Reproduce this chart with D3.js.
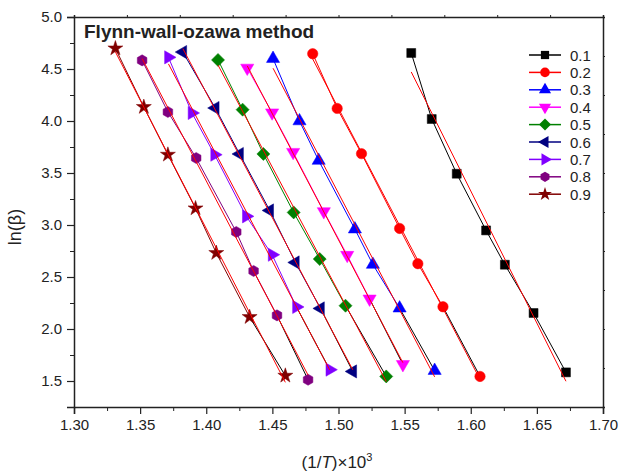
<!DOCTYPE html>
<html>
<head>
  <meta charset="utf-8">
  <script src="https://d3js.org/d3.v7.min.js"></script>
  <style>
    body { margin: 0; background: #fff; }
    .tick text { font-family: Arial, "Liberation Sans", sans-serif; font-size: 15px; fill: #222; }
    .axis path, .axis line { stroke: #222; }
    .label { font-family: Arial, "Liberation Sans", sans-serif; fill: #222; }
  </style>
</head>
<body>
  <script>

    // conversion levels and read-off values for each one
    var alphas = ["0.1", "0.2", "0.3", "0.4", "0.5", "0.6", "0.7", "0.8", "0.9"];
    var colors = ["#000000", "#ff0000", "#0000ff", "#ff00ff", "#008000", "#000080", "#8000ff", "#800080", "#800000"];

    var x01 = [1.555, 1.5705, 1.5894, 1.6116, 1.6258, 1.6475, 1.672];
    var y01 = [4.654, 4.019, 3.493, 2.948, 2.618, 2.154, 1.583];
    var x02 = [1.4805, 1.499, 1.5174, 1.5462, 1.560, 1.579, 1.607];
    var y02 = [4.647, 4.121, 3.686, 2.967, 2.628, 2.214, 1.544];
    var x03 = [1.4505, 1.4705, 1.485, 1.5124, 1.526, 1.5462, 1.5727];
    var y03 = [4.60, 4.00, 3.62, 2.96, 2.62, 2.20, 1.60];
    var x04 = [1.431, 1.4498, 1.4657, 1.4889, 1.5066, 1.5235, 1.5487];
    var y04 = [4.51, 4.08, 3.70, 3.13, 2.71, 2.29, 1.66];
    var x05 = [1.4089, 1.4275, 1.4432, 1.4661, 1.4858, 1.5053, 1.5361];
    var y05 = [4.587, 4.109, 3.683, 3.121, 2.673, 2.224, 1.544];
    var x06 = [1.3823, 1.4068, 1.4252, 1.448, 1.4674, 1.4864, 1.5108];
    var y06 = [4.663, 4.125, 3.683, 3.14, 2.64, 2.198, 1.592];
    var x07 = [1.3714, 1.3892, 1.4063, 1.4303, 1.4498, 1.4682, 1.4934];
    var y07 = [4.612, 4.077, 3.676, 3.083, 2.714, 2.212, 1.609];
    var x08 = [1.3515, 1.371, 1.3924, 1.4227, 1.4358, 1.4535, 1.477];
    var y08 = [4.583, 4.087, 3.644, 2.933, 2.558, 2.131, 1.512];
    var x09 = [1.3313, 1.3528, 1.371, 1.3919, 1.4076, 1.4328, 1.4598];
    var y09 = [4.698, 4.135, 3.676, 3.16, 2.731, 2.115, 1.551];

    var xVals = [x01, x02, x03, x04, x05, x06, x07, x08, x09];
    var yVals = [y01, y02, y03, y04, y05, y06, y07, y08, y09];

    var xTicks = [1.30, 1.35, 1.40, 1.45, 1.50, 1.55, 1.60, 1.65, 1.70];
    var yTicks = [1.5, 2.0, 2.5, 3.0, 3.5, 4.0, 4.5, 5.0];

    var W = 621, H = 473;
    var margin = {top: 17, right: 18, bottom: 66, left: 74},
        width = W - margin.left - margin.right,
        height = H - margin.top - margin.bottom;

    var x = d3.scaleLinear().domain([1.30, 1.70]).range([0, width]);
    var y = d3.scaleLinear().domain([1.25, 5.0]).range([height, 0]);
    // unlabeled ticks on the top and right frame
    var xTop = d3.scaleLinear().domain([0, 10]).range([0, width]);
    var yRight = d3.scaleLinear().domain([0, 10]).range([height, 0]);

    var svg = d3.select("body").append("svg")
        .attr("width", W)
        .attr("height", H)
      .append("g")
        .attr("transform", "translate(" + margin.left + "," + margin.top + ")");

    // hexagon marker
    var symbolHexagon = {
      draw: function(ctx, size) {
        var r = Math.sqrt(size / (1.5 * Math.sqrt(3)));
        for (var i = 0; i < 6; i++) {
          var a = Math.PI / 6 + i * Math.PI / 3;
          if (i === 0) ctx.moveTo(r * Math.cos(a), r * Math.sin(a));
          else ctx.lineTo(r * Math.cos(a), r * Math.sin(a));
        }
        ctx.closePath();
      }
    };

    var markers = [
      {type: d3.symbolSquare, size: 80, rot: 0},
      {type: d3.symbolCircle, size: 85, rot: 0},
      {type: d3.symbolTriangle, size: 75, rot: 0},
      {type: d3.symbolTriangle, size: 75, rot: 180},
      {type: d3.symbolSquare, size: 85, rot: 45},
      {type: d3.symbolTriangle, size: 75, rot: -90},
      {type: d3.symbolTriangle, size: 75, rot: 90},
      {type: symbolHexagon, size: 80, rot: 0},
      {type: d3.symbolStar, size: 70, rot: 0}
    ];

    var series = alphas.map(function(a, i) {
      return {
        name: a,
        color: colors[i],
        marker: markers[i],
        points: xVals[i].map(function(v, j) { return [v, yVals[i][j]]; })
      };
    });

    // least-squares fit line for each series
    function fit(points) {
      var mx = d3.mean(points, function(p) { return p[0]; });
      var my = d3.mean(points, function(p) { return p[1]; });
      var sxy = d3.sum(points, function(p) { return (p[0] - mx) * (p[1] - my); });
      var sxx = d3.sum(points, function(p) { return (p[0] - mx) * (p[0] - mx); });
      var b = sxy / sxx, a = my - b * mx;
      var x0 = d3.min(points, function(p) { return p[0]; }),
          x1 = d3.max(points, function(p) { return p[0]; });
      return [[x0, a + b * x0], [x1, a + b * x1]];
    }

    var line = d3.line()
        .x(function(d) { return x(d[0]); })
        .y(function(d) { return y(d[1]); });

    // axes
    svg.append("g")
        .attr("class", "axis")
        .attr("transform", "translate(0," + height + ")")
        .call(d3.axisBottom(x).tickValues(d3.range(1.325, 1.70, 0.05)).tickSize(4).tickFormat(""))
        .call(function(g) { g.select(".domain").remove(); });
    svg.append("g")
        .attr("class", "axis")
        .attr("transform", "translate(0," + height + ")")
        .call(d3.axisBottom(x).tickValues(xTicks).tickSize(7).tickPadding(5).tickFormat(d3.format(".2f")))
        .call(function(g) { g.select(".domain").attr("stroke-width", 1.5); g.selectAll("line").attr("stroke-width", 1.2); });

    svg.append("g")
        .attr("class", "axis")
        .call(d3.axisLeft(y).tickValues(d3.range(1.75, 5.0, 0.5)).tickSize(4).tickFormat(""))
        .call(function(g) { g.select(".domain").remove(); });
    svg.append("g")
        .attr("class", "axis")
        .call(d3.axisLeft(y).tickValues(yTicks).tickSize(7).tickPadding(5).tickFormat(d3.format(".1f")))
        .call(function(g) { g.select(".domain").attr("stroke-width", 1.5); g.selectAll("line").attr("stroke-width", 1.2); });

    svg.append("g")
        .attr("class", "axis")
        .call(d3.axisTop(xTop).ticks(10).tickSize(2).tickFormat(""))
        .call(function(g) { g.select(".domain").attr("stroke-width", 1.5); });
    svg.append("g")
        .attr("class", "axis")
        .attr("transform", "translate(" + width + ",0)")
        .call(d3.axisRight(yRight).ticks(10).tickSize(2).tickFormat(""))
        .call(function(g) { g.select(".domain").attr("stroke-width", 1.5); });

    // data lines, last segment drawn in black as in the original
    series.forEach(function(s) {
      var n = s.points.length;
      svg.append("path")
          .attr("d", line(s.points.slice(0, n - 1)))
          .attr("fill", "none")
          .attr("stroke", s.color)
          .attr("stroke-width", 1);
      svg.append("path")
          .attr("d", line(s.points.slice(n - 2)))
          .attr("fill", "none")
          .attr("stroke", "#000")
          .attr("stroke-width", 1);
    });

    // markers
    series.forEach(function(s) {
      svg.append("g").selectAll("path")
          .data(s.points)
        .enter().append("path")
          .attr("d", d3.symbol().type(s.marker.type).size(s.marker.size))
          .attr("transform", function(d) {
            return "translate(" + x(d[0]) + "," + y(d[1]) + ") rotate(" + s.marker.rot + ")";
          })
          .attr("fill", s.color)
          .attr("stroke", s.color)
          .attr("stroke-width", 0.5);
    });

    // red linear fits on top
    series.forEach(function(s) {
      svg.append("path")
          .attr("d", line(fit(s.points)))
          .attr("fill", "none")
          .attr("stroke", "#ff0000")
          .attr("stroke-width", 1);
    });

    // title
    svg.append("text")
        .attr("class", "label")
        .attr("x", 10)
        .attr("y", 21)
        .attr("font-size", 19)
        .attr("font-weight", "bold")
        .text("Flynn-wall-ozawa method");

    // legend
    var legend = svg.append("g")
        .attr("transform", "translate(" + (529 - margin.left) + "," + (55 - margin.top) + ")");
    series.forEach(function(s, i) {
      var g = legend.append("g").attr("transform", "translate(0," + (i * 17.4) + ")");
      g.append("line")
          .attr("x1", 0).attr("x2", 32)
          .attr("stroke", s.color)
          .attr("stroke-width", 1.5);
      g.append("path")
          .attr("d", d3.symbol().type(s.marker.type).size(s.marker.size * 0.85))
          .attr("transform", "translate(16,0) rotate(" + s.marker.rot + ")")
          .attr("fill", s.color);
      g.append("text")
          .attr("class", "label")
          .attr("x", 41)
          .attr("y", 5.5)
          .attr("font-size", 15)
          .text(s.name);
    });

    // axis titles
    svg.append("text")
        .attr("class", "label")
        .attr("transform", "translate(" + (15 - margin.left) + "," + (227 - margin.top) + ") rotate(-90)")
        .attr("text-anchor", "middle")
        .attr("dy", "0.35em")
        .attr("font-size", 18)
        .text("ln(β)");

    var xt = svg.append("text")
        .attr("class", "label")
        .attr("x", 337 - margin.left)
        .attr("y", 468 - margin.top)
        .attr("text-anchor", "middle")
        .attr("font-size", 17);
    xt.append("tspan").text("(1/");
    xt.append("tspan").attr("font-style", "italic").text("T");
    xt.append("tspan").text(")×10");
    xt.append("tspan").attr("dy", -7).attr("font-size", 11).text("3");

  </script>
</body>
</html>
